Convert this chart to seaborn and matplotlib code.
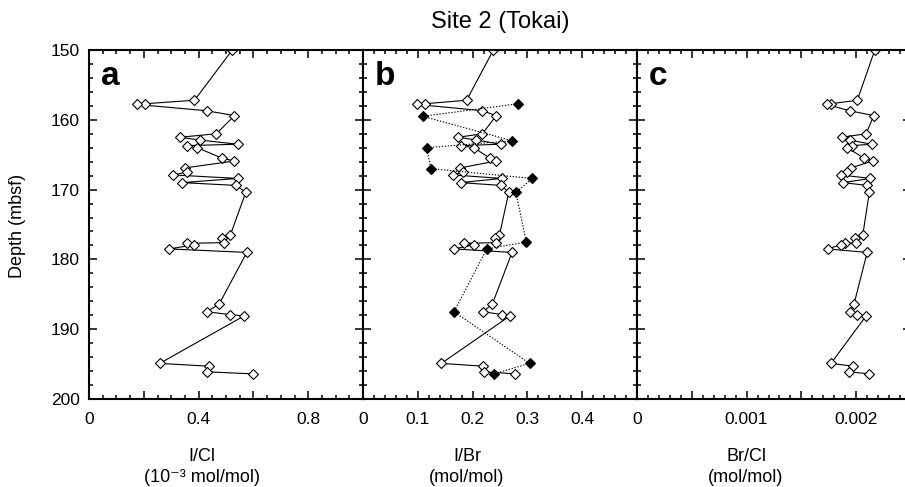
import matplotlib
matplotlib.use('Agg')
import matplotlib.pyplot as plt
import matplotlib.ticker as mticker
import seaborn as sns

# depth of the samples (mbsf), same samples in all three panels
depth = [150.0, 157.2, 157.7, 157.8, 158.7, 159.4, 162.0, 162.5, 162.9, 163.5,
         163.7, 164.0, 165.5, 165.9, 166.9, 167.5, 167.9, 168.4, 169.0, 169.4,
         170.4, 176.5, 177.0, 177.6, 177.7, 177.9, 178.5, 179.0, 186.4, 187.5,
         187.9, 188.1, 194.9, 195.3, 196.1, 196.4]

# I/Cl (10^-3 mol/mol)
i_cl = [0.523, 0.385, 0.204, 0.174, 0.429, 0.531, 0.465, 0.332, 0.405, 0.542,
        0.356, 0.395, 0.486, 0.531, 0.349, 0.356, 0.308, 0.543, 0.340, 0.537,
        0.572, 0.516, 0.486, 0.492, 0.356, 0.385, 0.293, 0.576, 0.475, 0.430,
        0.514, 0.566, 0.258, 0.439, 0.430, 0.598]

# I/Br (mol/mol)
i_br = [0.238, 0.189, 0.113, 0.099, 0.218, 0.243, 0.218, 0.174, 0.207, 0.251,
        0.179, 0.202, 0.232, 0.243, 0.177, 0.183, 0.164, 0.253, 0.178, 0.252,
        0.266, 0.249, 0.241, 0.243, 0.185, 0.203, 0.166, 0.272, 0.236, 0.219,
        0.254, 0.268, 0.143, 0.219, 0.220, 0.278]

# Br/Cl (mol/mol)
br_cl = [0.00217, 0.00201, 0.00177, 0.00173, 0.00194, 0.00216, 0.00209, 0.00187,
         0.00194, 0.00214, 0.00196, 0.00192, 0.00207, 0.00215, 0.00195, 0.00192,
         0.00186, 0.00213, 0.00188, 0.00210, 0.00212, 0.00206, 0.00199, 0.00200,
         0.00190, 0.00186, 0.00174, 0.00210, 0.00198, 0.00194, 0.00201, 0.00209,
         0.00177, 0.00197, 0.00193, 0.00212]

# second I/Br series (filled diamonds, dotted line)
depth_fill = [157.7, 159.5, 163.0, 164.0, 167.0, 168.4, 170.4, 177.5, 178.5,
              187.5, 194.9, 196.4]
i_br_fill = [0.283, 0.109, 0.272, 0.116, 0.124, 0.309, 0.279, 0.298, 0.226,
             0.166, 0.304, 0.239]

sns.set_style('ticks')
plt.rcParams['font.family'] = ['Liberation Sans', 'DejaVu Sans']
plt.rcParams['text.color'] = 'black'
plt.rcParams['axes.labelcolor'] = 'black'
plt.rcParams['xtick.color'] = 'black'
plt.rcParams['ytick.color'] = 'black'

W, H = 905, 487
fig = plt.figure(figsize=(W / 100, H / 100), dpi=100)

lefts = [89, 363, 637]
axes = [fig.add_axes([l / W, 88 / H, 274 / W, 349 / H]) for l in lefts]

open_kw = dict(sort=False, estimator=None, color='black', lw=0.8, marker='D',
               markersize=4.9, markerfacecolor='white', markeredgecolor='black',
               markeredgewidth=0.8)

sns.lineplot(x=i_cl, y=depth, ax=axes[0], **open_kw)
sns.lineplot(x=i_br, y=depth, ax=axes[1], **open_kw)
sns.lineplot(x=i_br_fill, y=depth_fill, ax=axes[1], sort=False, estimator=None,
             color='black', lw=0.8, linestyle=(0, (1.2, 1.5)), marker='D',
             markersize=4.9, markerfacecolor='black', markeredgecolor='black',
             markeredgewidth=0.8)
sns.lineplot(x=br_cl, y=depth, ax=axes[2], **open_kw)

xlims = [(0, 1.0), (0, 0.5), (0, 0.0025)]
majors = [0.2, 0.1, 0.0005]
minors = [0.05, 0.02, 0.0001]
label_every = [0.4, 0.1, 0.001]
label_max = [0.8, 0.4, 0.002]
letters = ['a', 'b', 'c']


def make_fmt(step, vmax):
    def f(v, pos):
        k = v / step
        if abs(k - round(k)) < 1e-6 and v <= vmax + 1e-9:
            return f'{round(k) * step:g}'
        return ''
    return f


for i, ax in enumerate(axes):
    ax.set_xlim(*xlims[i])
    ax.set_ylim(200, 150)
    ax.xaxis.set_major_locator(mticker.MultipleLocator(majors[i]))
    ax.xaxis.set_minor_locator(mticker.MultipleLocator(minors[i]))
    ax.xaxis.set_major_formatter(mticker.FuncFormatter(make_fmt(label_every[i], label_max[i])))
    ax.yaxis.set_major_locator(mticker.MultipleLocator(10))
    ax.yaxis.set_minor_locator(mticker.MultipleLocator(2))
    ax.tick_params(which='both', direction='in', top=True, right=True,
                   width=1.1, color='black', labelcolor='black')
    ax.tick_params(which='major', length=5.8)
    ax.tick_params(which='minor', length=3.0)
    ax.tick_params(axis='x', which='major', pad=9.5, labelsize=12.5)
    ax.tick_params(axis='y', which='major', pad=6.5, labelsize=12.5)
    for s in ax.spines.values():
        s.set_linewidth(1.5)
        s.set_color('black')
    ax.set_xlabel('')
    ax.set_ylabel('')
    if i > 0:
        ax.set_yticklabels([])
    ax.text(0.042, 0.9, letters[i], transform=ax.transAxes, fontsize=24,
            fontweight='bold', ha='left', va='baseline', color='black')

fig.text(500 / W, 1 - 22 / H, 'Site 2 (Tokai)', ha='center', va='center', fontsize=17)
fig.text(17 / W, 1 - 226 / H, 'Depth (mbsf)', rotation=90, ha='center',
         va='center', fontsize=13)

xl_pos = [202, 467, 746]
xl_top = ['I/Cl', 'I/Br', 'Br/Cl']
xl_bot = ['(10\u207b\u00b3 mol/mol)', '(mol/mol)', '(mol/mol)']
for xp, t1, t2 in zip(xl_pos, xl_top, xl_bot):
    fig.text(xp / W, 1 - 461 / H, t1, ha='center', va='baseline', fontsize=13)
    fig.text(xp / W, 1 - 482 / H, t2, ha='center', va='baseline', fontsize=13)

fig.savefig('out.png', dpi=100)
